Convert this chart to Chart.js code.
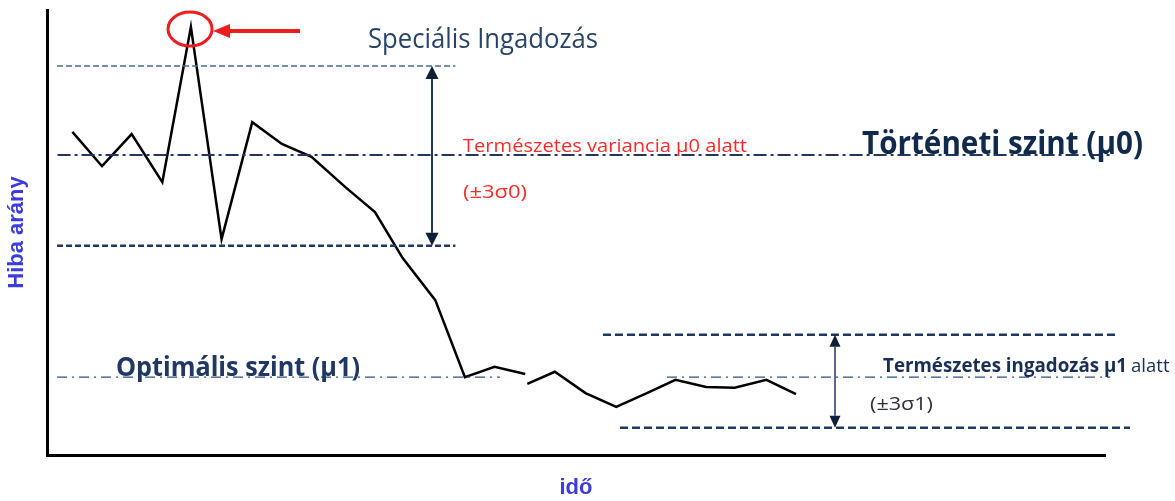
<!DOCTYPE html>
<html>
<head>
<meta charset="utf-8">
<script src="https://cdn.jsdelivr.net/npm/chart.js@4.4.1/dist/chart.umd.min.js"></script>
<style>
    html, body { margin: 0; padding: 0; background: #fff; }
    #wrap { width: 1175px; height: 501px; }
</style>
</head>
<body>
<div id="wrap"><canvas id="spcChart"></canvas></div>
<script>
// Process data (time units 0-100, error rate units 0-100)
const timePoints = [2.4, 5.2, 8.0, 10.9, 13.6, 16.5, 19.4, 22.2, 25.0, 28.2, 31.0, 33.6, 36.7, 39.5, 42.3, 45.2,
    45.3, 45.4, 48.0, 50.9, 53.8, 56.7, 59.4, 62.3, 65.0, 68.0, 70.8];
const errorRate = [72.6, 64.9, 72.1, 61.3, 96.2, 48.5, 74.8, 69.9, 67.0, 60.2, 54.6, 44.3, 34.8, 17.5, 19.8, 18.2,
    null, 16.0, 18.7, 13.9, 10.8, 13.9, 16.9, 15.3, 15.1, 16.9, 13.7];

// Historic level (mu0) and its +-3 sigma band
const historicLevel = 67.4;
const historicBand = [87.4, 47.0];
const historicSpan = [1.0, 100.5];
const historicBandSpan = [0.95, 38.6];

// Optimal level (mu1) and its +-3 sigma band
const optimalLevel = 17.5;
const optimalBand = [27.0, 6.1];
const optimalSpans = [[0.95, 42.8], [58.6, 100.5]];
const optimalBandSpans = [[52.55, 100.95], [54.16, 102.36]];

const NAVY = '#1f3864';

function hLine(x0, x1, y, color, width, dash) {
    return {
        data: [{ x: x0, y: y }, { x: x1, y: y }],
        borderColor: color,
        borderWidth: width,
        borderDash: dash,
        pointRadius: 0,
        clip: false
    };
}

const processData = timePoints.map((t, i) => ({ x: t, y: errorRate[i] }));

// Annotations: arrows, circle and labels
const annotations = {
    id: 'annotations',
    afterDraw(chart) {
        const ctx = chart.ctx;
        const xs = chart.scales.x, ys = chart.scales.y;
        const X = v => xs.getPixelForValue(v);
        const Y = v => ys.getPixelForValue(v);

        function fitText(text, t0, t1, r, size, weight, color) {
            ctx.save();
            ctx.font = weight + ' ' + size + 'px "Open Sans", sans-serif';
            ctx.fillStyle = color;
            ctx.textBaseline = 'alphabetic';
            const w = ctx.measureText(text).width;
            ctx.translate(X(t0), Y(r));
            ctx.scale((X(t1) - X(t0)) / w, 1);
            ctx.fillText(text, 0, 0);
            ctx.restore();
        }

        function head(x, y, dir, w, len, color) {
            ctx.beginPath();
            ctx.moveTo(x, y);
            ctx.lineTo(x - w / 2, y + dir * len);
            ctx.lineTo(x + w / 2, y + dir * len);
            ctx.closePath();
            ctx.fillStyle = color;
            ctx.fill();
        }

        function doubleArrow(t, rTop, rBottom, lw, hw, hl) {
            const x = X(t), y1 = Y(rTop), y2 = Y(rBottom);
            ctx.save();
            ctx.strokeStyle = NAVY;
            ctx.lineWidth = lw;
            ctx.beginPath();
            ctx.moveTo(x, y1 + hl);
            ctx.lineTo(x, y2 - hl);
            ctx.stroke();
            head(x, y1, 1, hw, hl, '#0d1f38');
            head(x, y2, -1, hw, hl, '#0d1f38');
            ctx.restore();
        }

        doubleArrow(36.39, historicBand[0], historicBand[1], 2, 13, 13);
        doubleArrow(74.48, optimalBand[0], optimalBand[1], 1.5, 11, 12);

        // red circle around the special cause point
        ctx.save();
        ctx.strokeStyle = '#ee1c1c';
        ctx.lineWidth = 3;
        ctx.beginPath();
        ctx.ellipse(X(13.52), Y(95.73), 22, 17, 0, 0, Math.PI * 2);
        ctx.stroke();
        // red pointer arrow
        const ay = Y(95.28);
        ctx.lineWidth = 4;
        ctx.beginPath();
        ctx.moveTo(X(23.91), ay);
        ctx.lineTo(X(15.69) + 14, ay);
        ctx.stroke();
        ctx.beginPath();
        ctx.moveTo(X(15.69), ay);
        ctx.lineTo(X(15.69) + 17, ay - 7);
        ctx.lineTo(X(15.69) + 17, ay + 7);
        ctx.closePath();
        ctx.fillStyle = '#ee1c1c';
        ctx.fill();
        ctx.restore();

        fitText('Speciális Ingadozás', 30.34, 52.08, 91.5, 27, 'normal', '#2a4468');
        fitText('Történeti szint (µ0)', 77.03, 103.59, 67.6, 33, 'bold', '#102a4c');
        fitText('Természetes variancia µ0 alatt', 39.32, 66.16, 68.1, 19, 'normal', '#ff2a2a');
        fitText('(±3σ0)', 39.32, 45.37, 57.75, 19, 'normal', '#ff2a2a');
        fitText('Optimális szint (µ1)', 6.52, 29.58, 17.75, 26, 'bold', '#1f3864');
        fitText('Természetes ingadozás µ1', 79.02, 102.08, 18.65, 19, 'bold', '#1a2f55');
        fitText('alatt', 102.46, 106.1, 18.65, 18, 'normal', '#1a2f55');
        fitText('(±3σ1)', 77.79, 83.74, 10.1, 19, 'normal', '#2a2f3a');
    }
};

const ctx = document.getElementById('spcChart').getContext('2d');

new Chart(ctx, {
    type: 'line',
    data: {
        datasets: [
            hLine(historicBandSpan[0], historicBandSpan[1], historicBand[0], '#4a6a94', 1.5, [6, 3]),
            hLine(historicSpan[0], historicSpan[1], historicLevel, NAVY, 2, [13, 4, 3, 4]),
            hLine(historicBandSpan[0], historicBandSpan[1], historicBand[1], NAVY, 2.5, [6, 3]),
            hLine(optimalBandSpans[0][0], optimalBandSpans[0][1], optimalBand[0], NAVY, 2.5, [8, 4]),
            hLine(optimalSpans[0][0], optimalSpans[0][1], optimalLevel, '#2f5283', 1.2, [10, 5, 2, 5]),
            hLine(optimalSpans[1][0], optimalSpans[1][1], optimalLevel, '#2f5283', 1.2, [10, 5, 2, 5]),
            hLine(optimalBandSpans[1][0], optimalBandSpans[1][1], optimalBand[1], NAVY, 2.5, [8, 4]),
            {
                data: processData,
                borderColor: '#000',
                borderWidth: 2.5,
                pointRadius: 0,
                tension: 0,
                spanGaps: false,
                clip: false
            }
        ]
    },
    options: {
        responsive: true,
        maintainAspectRatio: false,
        animation: false,
        events: [],
        layout: {
            padding: { left: 0, top: 10, right: 70, bottom: 0 }
        },
        plugins: {
            legend: { display: false },
            tooltip: { enabled: false }
        },
        scales: {
            x: {
                type: 'linear',
                min: 0,
                max: 100,
                grid: { display: false, drawTicks: false },
                ticks: { display: false },
                border: { display: true, color: '#000', width: 3 },
                title: {
                    display: true,
                    text: 'idő',
                    color: '#3b3be0',
                    font: { family: '"Liberation Sans", Arial, sans-serif', size: 22, weight: 'bold' },
                    padding: { top: 19.6, bottom: 0 }
                }
            },
            y: {
                type: 'linear',
                min: 0,
                max: 100,
                grid: { display: false, drawTicks: false },
                ticks: { display: false },
                border: { display: true, color: '#000', width: 3 },
                title: {
                    display: true,
                    text: 'Hiba arány',
                    color: '#3b3be0',
                    font: { family: '"Liberation Sans", Arial, sans-serif', size: 22, weight: 'bold' },
                    padding: { top: 3.8, bottom: 16.8 }
                }
            }
        }
    },
    plugins: [annotations]
});
</script>
</body>
</html>
